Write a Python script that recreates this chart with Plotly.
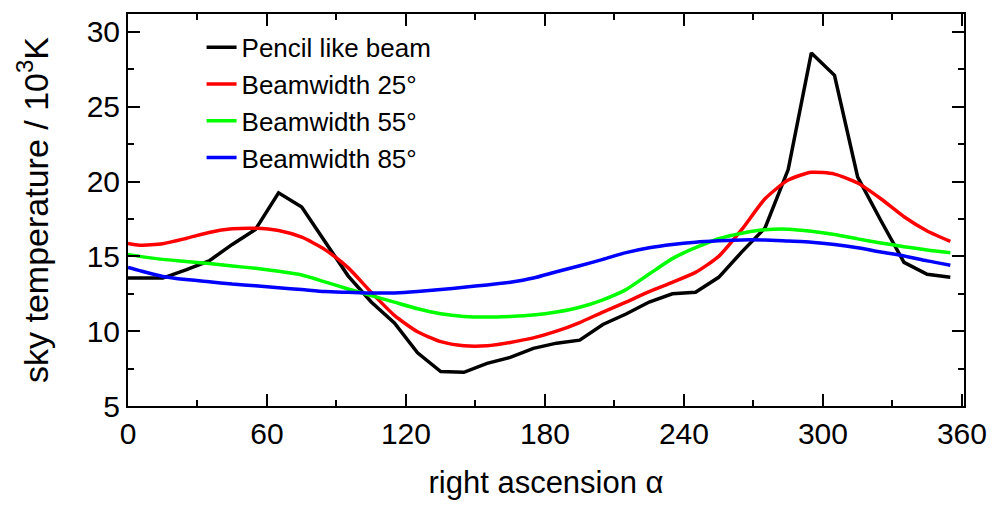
import plotly.graph_objects as go

# right ascension (degrees)
ra = [0, 5, 15, 25, 35, 45, 55, 65, 75, 85, 95, 105, 115, 125, 135, 145, 155, 165, 175,
      185, 195, 205, 215, 225, 235, 245, 255, 265, 275, 285, 295, 305, 315, 325, 335, 345, 355]

# sky temperature / 10^3 K
pencil = [13.55, 13.55, 13.55, 14.1, 14.7, 15.8, 16.8, 19.25, 18.3, 16.0, 13.7, 11.95, 10.55, 8.55,
          7.3, 7.25, 7.85, 8.25, 8.85, 9.2, 9.4, 10.45, 11.15, 11.95, 12.5, 12.6, 13.6, 15.3, 16.9,
          20.8, 28.6, 27.1, 20.3, 17.4, 14.6, 13.8, 13.6]
bw25 = [15.87, 15.75, 15.85, 16.2, 16.6, 16.84, 16.88, 16.73, 16.28, 15.45, 14.25, 12.6, 11.06, 9.96,
        9.3, 9.03, 9.03, 9.25, 9.55, 10.0, 10.58, 11.28, 11.94, 12.65, 13.27, 13.93, 15.0, 16.8, 18.85,
        20.1, 20.62, 20.5, 19.9, 18.85, 17.65, 16.7, 16.0]
bw55 = [15.12, 15.0, 14.8, 14.66, 14.52, 14.36, 14.2, 14.0, 13.75, 13.3, 12.82, 12.38, 11.94, 11.5,
        11.17, 10.99, 10.95, 10.99, 11.08, 11.28, 11.6, 12.1, 12.78, 13.82, 14.85, 15.58, 16.18, 16.55,
        16.78, 16.82, 16.68, 16.46, 16.17, 15.9, 15.65, 15.43, 15.25]
bw85 = [14.26, 14.05, 13.66, 13.45, 13.3, 13.15, 13.04, 12.9, 12.78, 12.65, 12.6, 12.55, 12.56, 12.65,
        12.78, 12.94, 13.09, 13.27, 13.55, 13.97, 14.37, 14.8, 15.25, 15.58, 15.8, 15.95, 16.04, 16.1,
        16.09, 16.02, 15.95, 15.8, 15.58, 15.29, 15.03, 14.7, 14.41]

series = [
    ("Pencil like beam", pencil, "#000000", "linear"),
    ("Beamwidth 25°", bw25, "#ff0000", "spline"),
    ("Beamwidth 55°", bw55, "#00ff00", "spline"),
    ("Beamwidth 85°", bw85, "#0000ff", "spline"),
]

x_ticks = [0, 60, 120, 180, 240, 300, 360]
y_ticks = [5, 10, 15, 20, 25, 30]

FONT = "Liberation Sans, Arial, sans-serif"

fig = go.Figure()
for name, vals, color, shape in series:
    fig.add_trace(go.Scatter(
        x=ra, y=vals, mode="lines", name=name,
        line=dict(color=color, width=3.5, shape=shape, smoothing=0.6),
    ))

axis_common = dict(
    showline=True, linecolor="black", linewidth=2, mirror="ticks",
    ticks="inside", ticklen=12, tickwidth=2, tickcolor="black",
    showgrid=False, zeroline=False,
    tickfont=dict(family=FONT, size=30, color="black"),
)

fig.update_xaxes(
    range=[0, 360.9], tickvals=x_ticks, ticktext=[str(v) for v in x_ticks],
    minor=dict(ticks="inside", ticklen=6, tickwidth=2, tickcolor="black", dtick=30, tick0=0, showgrid=False),
    title=dict(text="right ascension α", font=dict(family=FONT, size=31, color="black"), standoff=22),
    **axis_common,
)
fig.update_yaxes(
    range=[5, 31.2], tickvals=y_ticks, ticktext=[str(v) for v in y_ticks],
    minor=dict(ticks="inside", ticklen=6, tickwidth=2, tickcolor="black", dtick=2.5, tick0=0, showgrid=False),
    title=dict(text="sky temperature / 10<sup>3</sup>K", font=dict(family=FONT, size=34, color="black"), standoff=28),
    **axis_common,
)

fig.update_layout(
    width=999, height=506,
    margin=dict(l=128, r=29, t=12, b=98),
    paper_bgcolor="white", plot_bgcolor="white",
    showlegend=True,
    legend=dict(
        x=0.088, y=0.975, xanchor="left", yanchor="top",
        bgcolor="rgba(0,0,0,0)", borderwidth=0,
        font=dict(family=FONT, size=26, color="black"),
        tracegroupgap=0,
    ),
)

fig.write_html("out.html")
